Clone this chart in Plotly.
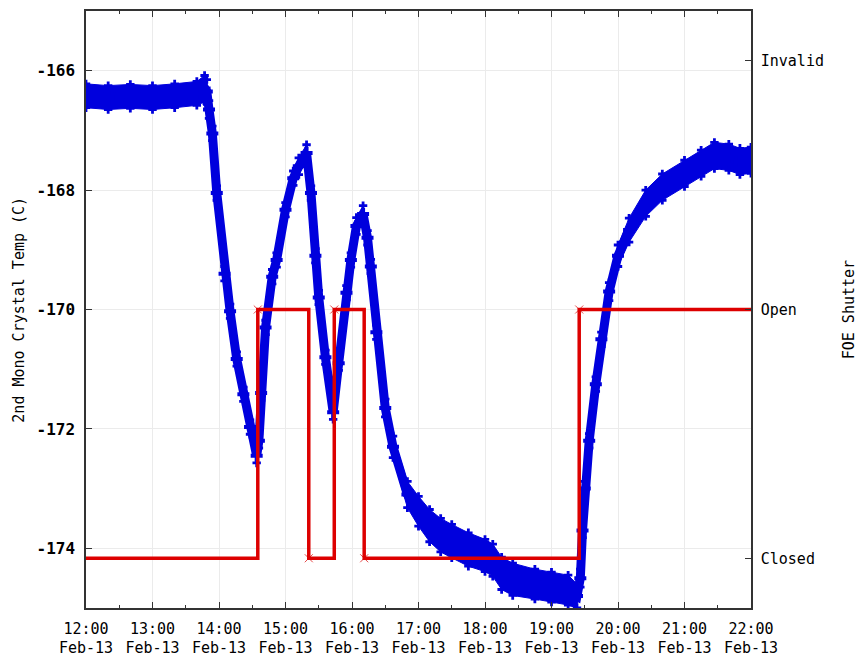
import plotly.graph_objects as go

DAY = "2013-02-13 "

# 2nd Mono Crystal Temp (C): centre of the noisy band
temp_times = ["12:00", "12:20", "12:40", "13:00", "13:20", "13:40", "13:47", "13:49", "13:51",
              "13:54", "13:58", "14:05", "14:10", "14:16", "14:22", "14:28", "14:34", "14:36",
              "14:38", "14:42", "14:48", "14:52", "15:00", "15:07", "15:12", "15:19", "15:23",
              "15:27", "15:30", "15:36", "15:43", "15:48", "15:55", "15:59", "16:04", "16:10",
              "16:14", "16:17", "16:22", "16:30", "16:37", "16:50", "17:00", "17:10", "17:20",
              "17:30", "17:45", "18:00", "18:07", "18:15", "18:25", "18:45", "19:00", "19:15",
              "19:23", "19:26", "19:28", "19:30", "19:34", "19:40", "19:45", "19:52", "20:00",
              "20:10", "20:25", "20:40", "21:00", "21:15", "21:27", "21:40", "21:50", "22:00"]
temp_values = [-166.42, -166.45, -166.43, -166.45, -166.42, -166.38, -166.30, -166.35, -166.65,
               -167.05, -168.05, -169.40, -170.03, -170.83, -171.42, -171.97, -172.45, -172.20,
               -171.40, -170.30, -169.45, -169.17, -168.33, -167.80, -167.60, -167.38, -168.05,
               -169.10, -169.80, -170.80, -171.72, -170.90, -169.72, -169.17, -168.60, -168.40,
               -168.80, -169.28, -170.38, -171.65, -172.30, -173.10, -173.38, -173.62, -173.78,
               -173.88, -174.02, -174.12, -174.20, -174.42, -174.52, -174.60, -174.65, -174.70,
               -174.80, -174.50, -173.70, -173.00, -172.20, -171.25, -170.50, -169.70, -169.10,
               -168.67, -168.22, -167.95, -167.72, -167.55, -167.42, -167.45, -167.52, -167.50]
# half-thickness of the noise band (C)
temp_spread = [0.20, 0.20, 0.20, 0.20, 0.20, 0.20, 0.22, 0.20, 0.15,
               0.12, 0.12, 0.12, 0.12, 0.12, 0.12, 0.12, 0.12, 0.12,
               0.12, 0.12, 0.12, 0.12, 0.12, 0.12, 0.14, 0.14, 0.12,
               0.12, 0.12, 0.12, 0.12, 0.12, 0.12, 0.12, 0.14, 0.14,
               0.12, 0.12, 0.12, 0.15, 0.18, 0.22, 0.25, 0.27, 0.28,
               0.28, 0.28, 0.27, 0.27, 0.27, 0.27, 0.25, 0.25, 0.25,
               0.20, 0.15, 0.12, 0.12, 0.12, 0.12, 0.12, 0.15, 0.18,
               0.20, 0.22, 0.22, 0.22, 0.22, 0.22, 0.22, 0.22, 0.22]

# FOE Shutter state: 0 = Closed, 1 = Open
shutter_times = ["12:00", "14:35", "15:21", "15:44", "16:11", "19:25", "22:00"]
shutter_state = [0, 1, 0, 1, 0, 1, 1]

x_tick_times = ["12:00", "13:00", "14:00", "15:00", "16:00", "17:00",
                "18:00", "19:00", "20:00", "21:00", "22:00"]
x_tick_date = "Feb-13"
y_tick_vals = [-174, -172, -170, -168, -166]
shutter_tick_vals = [0, 1, 2]
shutter_tick_text = ["Closed", "Open", "Invalid"]

BLUE = "#0000dd"
RED = "#dd0000"
FONT = "DejaVu Sans Mono"

tx = [DAY + t for t in temp_times]
t_hi = [v + s for v, s in zip(temp_values, temp_spread)]
t_lo = [v - s for v, s in zip(temp_values, temp_spread)]
sx = [DAY + t for t in shutter_times]

fig = go.Figure()
fig.add_trace(go.Scatter(x=tx, y=t_lo, mode="lines+markers",
                         line=dict(color=BLUE, width=1),
                         marker=dict(symbol="cross", size=7, color=BLUE),
                         showlegend=False, hoverinfo="skip"))
fig.add_trace(go.Scatter(x=tx, y=t_hi, mode="lines+markers", fill="tonexty",
                         fillcolor=BLUE, line=dict(color=BLUE, width=1),
                         marker=dict(symbol="cross", size=7, color=BLUE),
                         showlegend=False, hoverinfo="skip"))
fig.add_trace(go.Scatter(x=tx, y=temp_values, mode="lines+markers",
                         line=dict(color=BLUE, width=9),
                         marker=dict(symbol="cross", size=10, color=BLUE),
                         name="2nd Mono Crystal Temp", showlegend=False))
marker_sizes = [0] + [8] * (len(shutter_times) - 2) + [0]
fig.add_trace(go.Scatter(x=sx, y=shutter_state, yaxis="y2", mode="lines+markers",
                         line=dict(color=RED, width=3.5, shape="hv"),
                         marker=dict(symbol="x-thin", size=marker_sizes,
                                     line=dict(color=RED, width=1)),
                         name="FOE Shutter", showlegend=False))

fig.update_layout(
    width=857, height=656,
    margin=dict(l=86, r=106, t=11, b=48, autoexpand=False),
    paper_bgcolor="white", plot_bgcolor="white",
    font=dict(family=FONT, size=15, color="black"),
    showlegend=False,
    xaxis=dict(
        range=[DAY + "12:00", DAY + "22:00"],
        tickvals=[DAY + t for t in x_tick_times],
        ticktext=[f"{t}<br>{x_tick_date}" for t in x_tick_times],
        showgrid=True, gridcolor="#ebebeb", gridwidth=1,
        showline=True, linecolor="#333", linewidth=1.5, mirror="ticks",
        ticks="inside", ticklen=6, tickcolor="#333",
        minor=dict(dtick=30 * 60 * 1000, ticks="inside", ticklen=3, tickcolor="#333",
                   showgrid=False),
        tickfont=dict(family=FONT, size=15),
        ticklabelstandoff=6,
        automargin=False,
        zeroline=False,
    ),
    yaxis=dict(
        range=[-175, -165],
        tickvals=y_tick_vals,
        ticktext=[f"<b>-{abs(v)}</b>" for v in y_tick_vals],
        showgrid=True, gridcolor="#ebebeb", gridwidth=1,
        showline=True, linecolor="#333", linewidth=1.5,
        ticks="inside", ticklen=6, tickcolor="#333",
        tickfont=dict(family=FONT, size=16),
        ticklabelstandoff=6,
        automargin=False,
        zeroline=False,
    ),
    yaxis2=dict(
        range=[-0.2, 2.2], overlaying="y", side="right",
        tickvals=shutter_tick_vals, ticktext=shutter_tick_text,
        showgrid=False, showline=True, linecolor="#333", linewidth=1.5,
        ticks="inside", ticklen=6, tickcolor="#333",
        tickfont=dict(family=FONT, size=15),
        ticklabelstandoff=5,
        automargin=False,
        zeroline=False,
    ),
    annotations=[
        dict(text="2nd Mono Crystal Temp (C)", xref="paper", yref="paper",
             x=-0.102, y=0.5, xanchor="center", yanchor="middle", textangle=-90,
             showarrow=False, font=dict(family=FONT, size=15)),
        dict(text="FOE Shutter", xref="paper", yref="paper",
             x=1.147, y=0.5, xanchor="center", yanchor="middle", textangle=-90,
             showarrow=False, font=dict(family=FONT, size=15)),
    ],
)

fig.write_html("out.html")
